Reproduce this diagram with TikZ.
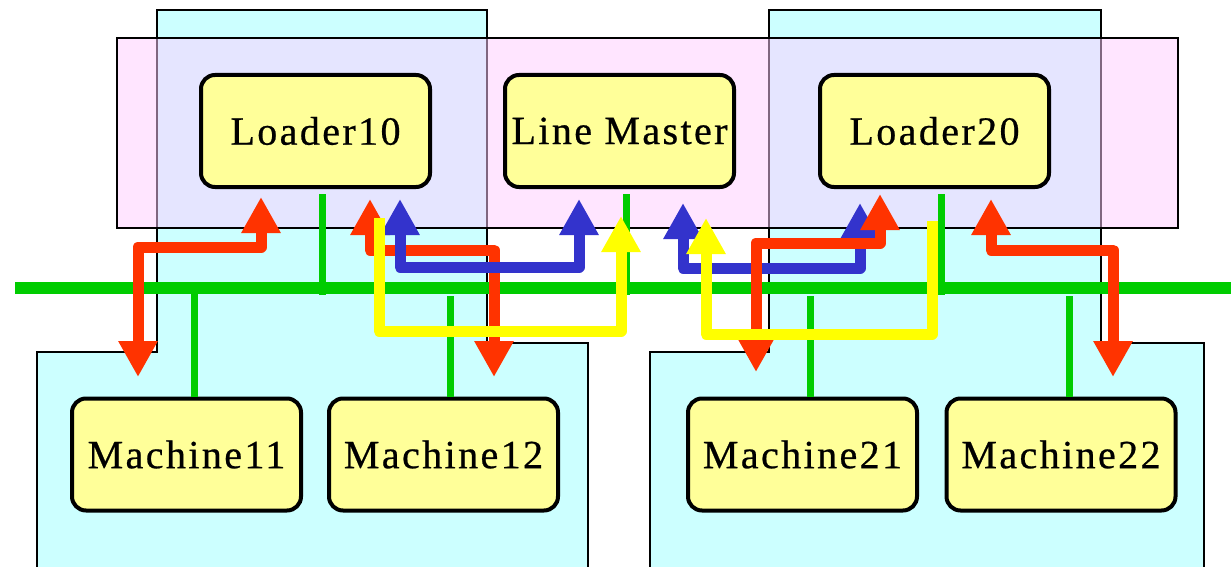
\documentclass[tikz,border=0pt]{standalone}
\usepackage{fontspec}
\setmainfont{Liberation Serif}
\usetikzlibrary{arrows.meta}
\definecolor{cellfill}{HTML}{CCFFFF}
\definecolor{linefill}{RGB}{255,204,255}
\definecolor{boxfill}{HTML}{FFFF99}
\definecolor{busgreen}{HTML}{00CC00}
\definecolor{flowred}{HTML}{FF3300}
\definecolor{flowblue}{HTML}{3333CC}
\definecolor{flowyellow}{HTML}{FFFF00}
\tikzset{
  cell/.style={draw=black, line width=2pt, fill=cellfill},
  lineframe/.style={draw=black, line width=2pt, fill=linefill, fill opacity=0.5},
  unit/.style={draw=black, line width=4pt, fill=boxfill, rounded corners=14pt,
    minimum width=229pt, minimum height=112pt, inner sep=0pt,
    font=\fontsize{40}{40}\selectfont\addfontfeature{LetterSpace=6,FakeBold=0.6}},
  bus/.style={draw=busgreen, line width=12pt},
  stub/.style={draw=busgreen, line width=7pt},
  flow/.style={line width=11pt, line join=round,
    >={Triangle[width=37pt,length=36pt]}},
}
\begin{document}
\begin{tikzpicture}[x=1pt,y=-1pt]
\useasboundingbox (0,0) rectangle (1231,567);
\clip (0,0) rectangle (1231,567);

% cells of each loader and its machines
\draw[cell] (37,590) -- (37,352) -- (157,352) -- (157,10) -- (487,10)
  -- (487,343) -- (588,343) -- (588,590);
\draw[cell] (650,590) -- (650,352) -- (769,352) -- (769,10) -- (1101,10)
  -- (1101,343) -- (1204,343) -- (1204,590);

% line controller band
\draw[lineframe] (117,38) rectangle (1178,228);

% units
\node[unit] (L10) at (315.5,131) {Loader10};
\node[unit] (LM)  at (619.5,131) {Line Master};
\node[unit] (L20) at (934.5,131) {Loader20};
\node[unit] (M11) at (186.5,454.5) {Machine11};
\node[unit] (M12) at (443.5,454.5) {Machine12};
\node[unit] (M21) at (802.5,454.5) {Machine21};
\node[unit] (M22) at (1061,454.5) {Machine22};

% network bus and drops
\coordinate (busW) at (15,288);
\coordinate (busE) at (1231,288);
\draw[bus] (busW) -- (busE);
\draw[stub] ([xshift=6.5pt,yshift=-5pt]L10.south) -- ++(0,101);
\draw[stub] ([xshift=6.5pt,yshift=-5pt]LM.south) -- ++(0,101);
\draw[stub] ([xshift=6.5pt,yshift=-5pt]L20.south) -- ++(0,101);
\draw[stub] ([xshift=7.5pt]M11.north) -- ([xshift=7.5pt]M11.north |- busW);
\draw[stub] ([xshift=6.5pt]M12.north) -- ++(0,-101);
\draw[stub] ([xshift=7.5pt]M21.north) -- ++(0,-101);
\draw[stub] ([xshift=8pt]M22.north) -- ++(0,-101);

% flow end points
\coordinate (a1) at (261,197);  \coordinate (b1) at (138,377);
\coordinate (a2) at (370,199);  \coordinate (b2) at (494,377);
\coordinate (a3) at (400,199);  \coordinate (b3) at (579,199);
\coordinate (a4) at (379,218);  \coordinate (b4) at (621,216);
\coordinate (a5) at (683,203);  \coordinate (b5) at (860,203);
\coordinate (a6) at (880,194);  \coordinate (b6) at (756,372);
\coordinate (a7) at (991,199);  \coordinate (b7) at (1113,377);
\coordinate (a8) at (932,221);  \coordinate (b8) at (706,218);

% Loader10 side
\draw[flow, flowred, <->] (a1) -- (261,247) -- (138,247) -- (b1);
\draw[flow, flowred, <->] (a2) -- (370,250) -- (494,250) -- (b2);
\draw[flow, flowblue, <->] (a3) -- (400,267) -- (579,267) -- (b3);
\draw[flow, flowyellow, ->] (a4) -- (379,331) -- (621,331) -- (b4);

% Loader20 side
\draw[flow, flowblue, <->] (a5) -- (683,268) -- (860,268) -- (b5);
\draw[flow, flowred, <->] (a6) -- (880,243) -- (756,243) -- (b6);
\draw[flow, flowred, <->] (a7) -- (991,250) -- (1113,250) -- (b7);
\draw[flow, flowyellow, ->] (a8) -- (932,334) -- (706,334) -- (b8);
\end{tikzpicture}
\end{document}
